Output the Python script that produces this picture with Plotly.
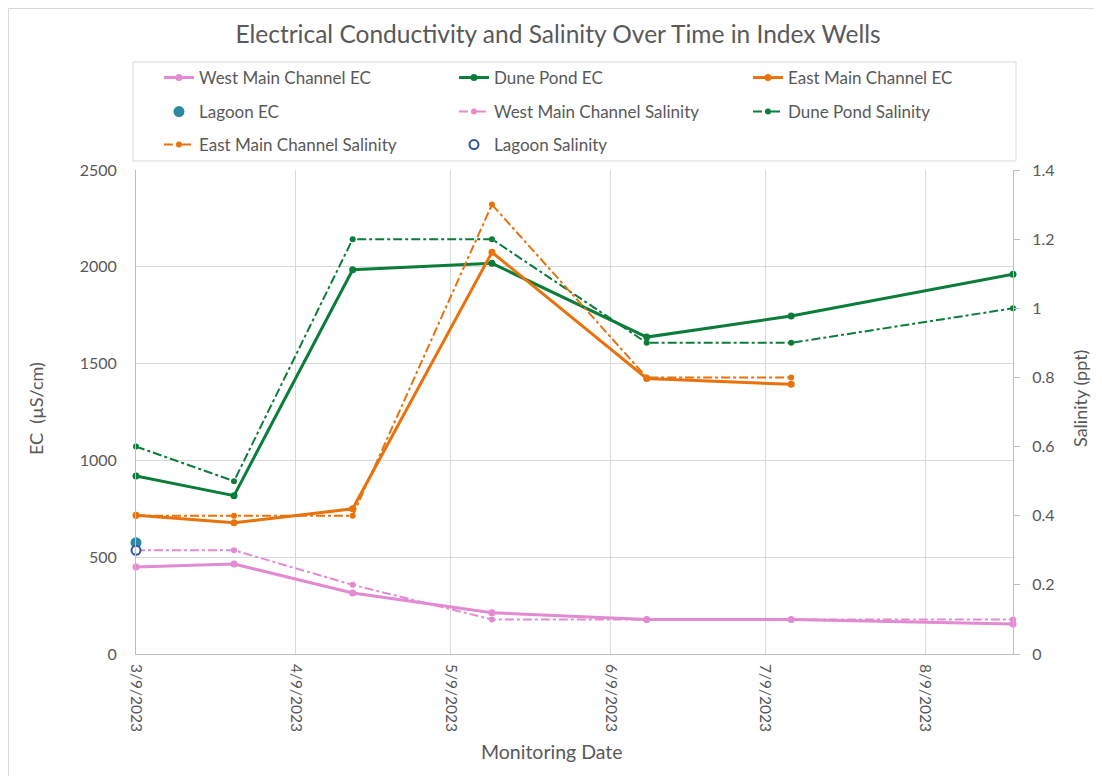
import plotly.graph_objects as go

# ---------------- data ----------------
dates = ["2023-03-09", "2023-03-28", "2023-04-20", "2023-05-17",
         "2023-06-16", "2023-07-14", "2023-08-26"]

west_ec = [450, 465, 315, 213, 178, 178, 155]
dune_ec = [920, 818, 1985, 2018, 1637, 1746, 1962]
east_ec_dates = dates[:6]
east_ec = [717, 678, 750, 2075, 1423, 1393]
lagoon_ec_dates = ["2023-03-09"]
lagoon_ec = [575]

west_sal = [0.3, 0.3, 0.2, 0.1, 0.1, 0.1, 0.1]
dune_sal = [0.6, 0.5, 1.2, 1.2, 0.9, 0.9, 1.0]
east_sal_dates = dates[:6]
east_sal = [0.4, 0.4, 0.4, 1.3, 0.8, 0.8]
lagoon_sal_dates = ["2023-03-09"]
lagoon_sal = [0.3]

xtick_vals = ["2023-03-09", "2023-04-09", "2023-05-09", "2023-06-09",
              "2023-07-09", "2023-08-09"]
xtick_text = ["3/9/2023", "4/9/2023", "5/9/2023", "6/9/2023",
              "7/9/2023", "8/9/2023"]

PINK = "#E28AD2"
GREEN = "#0B7D3A"
ORANGE = "#E8720C"
TEAL = "#2E87A3"
NAVY = "#2F5597"
TXT = "#595959"
GRID = "#D9D9D9"
FONT = "Lato, 'Open Sans', sans-serif"

# page is rendered with an 8px body margin -> figure is offset by 8px
OFF = 8
PAGE_W, PAGE_H = 1102, 776
W, H = PAGE_W - OFF, PAGE_H - OFF
PL, PR, PT, PB = 136, 1013, 170, 654       # plot area in page pixels
L, R, T, B = PL - OFF, PAGE_W - PR, PT - OFF, PAGE_H - PB
pw = PR - PL
ph = PB - PT


def px_x(px):
    return (px - PL) / pw


def px_y(py):
    return (PB - py) / ph


fig = go.Figure()

legend_pos = {}


def add_legend(key, px, py):
    legend_pos[key] = (px, py)


def ec_line(x, y, name, color, legend):
    fig.add_trace(go.Scatter(
        x=x, y=y, name=name, mode="lines+markers", legend=legend,
        line=dict(color=color, width=3), cliponaxis=False,
        marker=dict(color=color, size=7), yaxis="y"))


def sal_line(x, y, name, color, legend):
    fig.add_trace(go.Scatter(
        x=x, y=y, name=name, mode="lines+markers", legend=legend,
        line=dict(color=color, width=2, dash="dashdot"), cliponaxis=False,
        marker=dict(color=color, size=6), yaxis="y2"))


COLS = [159, 454, 748]
ROWS = [78, 112, 145]

ec_line(dates, west_ec, "West Main Channel EC", PINK, "legend")
add_legend("legend", COLS[0], ROWS[0])
ec_line(dates, dune_ec, "Dune Pond EC", GREEN, "legend2")
add_legend("legend2", COLS[1], ROWS[0])
ec_line(east_ec_dates, east_ec, "East Main Channel EC", ORANGE, "legend3")
add_legend("legend3", COLS[2], ROWS[0])
fig.add_trace(go.Scatter(
    x=lagoon_ec_dates, y=lagoon_ec, name="Lagoon EC", mode="markers",
    legend="legend4", cliponaxis=False,
    marker=dict(color=TEAL, size=11), yaxis="y"))
add_legend("legend4", COLS[0], ROWS[1])
sal_line(dates, west_sal, "West Main Channel Salinity", PINK, "legend5")
add_legend("legend5", COLS[1], ROWS[1])
sal_line(dates, dune_sal, "Dune Pond Salinity", GREEN, "legend6")
add_legend("legend6", COLS[2], ROWS[1])
sal_line(east_sal_dates, east_sal, "East Main Channel Salinity", ORANGE, "legend7")
add_legend("legend7", COLS[0], ROWS[2])
fig.add_trace(go.Scatter(
    x=lagoon_sal_dates, y=lagoon_sal, name="Lagoon Salinity", mode="markers",
    legend="legend8", cliponaxis=False,
    marker=dict(color="white", size=9, line=dict(color=NAVY, width=2)),
    yaxis="y2"))
add_legend("legend8", COLS[1], ROWS[2])

legends = {}
for key, (lx, ly) in legend_pos.items():
    legends[key] = dict(
        orientation="v", xanchor="left", yanchor="middle",
        x=px_x(lx), y=px_y(ly), visible=True,
        bgcolor="rgba(0,0,0,0)", borderwidth=0,
        font=dict(family=FONT, size=17, color=TXT),
    )

fig.update_layout(
    width=W, height=H, showlegend=True,
    paper_bgcolor="white", plot_bgcolor="white",
    margin=dict(l=L, r=R, t=T, b=B),
    font=dict(family=FONT, color=TXT, size=16),
    title=dict(text="Electrical Conductivity and Salinity Over Time in Index Wells",
               x=(558 - OFF) / W, xref="container", xanchor="center",
               y=1 - (34 - OFF) / H, yref="container", yanchor="middle",
               font=dict(family=FONT, size=24.5, color=TXT)),
    **legends,
    xaxis=dict(type="date", range=["2023-03-09", "2023-08-26"],
               tickvals=xtick_vals, ticktext=xtick_text, tickangle=90,
               showgrid=True, gridcolor=GRID, gridwidth=1,
               showline=True, linecolor="#BFBFBF", linewidth=1,
               zeroline=False, ticks="", ticklabelstandoff=6,
               tickfont=dict(family=FONT, size=15.5, color=TXT)),
    yaxis=dict(range=[0, 2500], dtick=500, tick0=0,
               showgrid=True, gridcolor=GRID, gridwidth=1,
               showline=True, linecolor="#BFBFBF", linewidth=1,
               zeroline=False, ticks="", ticklabelstandoff=15,
               tickfont=dict(family=FONT, size=16, color=TXT)),
    yaxis2=dict(range=[0, 1.4], dtick=0.2, tick0=0, overlaying="y",
                side="right", showgrid=False, zeroline=False,
                showline=True, linecolor="#BFBFBF", linewidth=1,
                ticks="outside", ticklen=6, tickcolor="#BFBFBF",
                ticklabelstandoff=9,
                tickfont=dict(family=FONT, size=16, color=TXT)),
    annotations=[
        dict(text="EC  (µS/cm)", xref="paper", yref="paper",
             x=px_x(36), y=px_y(409), textangle=-90, showarrow=False,
             xanchor="center", yanchor="middle",
             font=dict(family=FONT, size=18, color=TXT)),
        dict(text="Salinity (ppt)", xref="paper", yref="paper",
             x=px_x(1080), y=px_y(399), textangle=-90, showarrow=False,
             xanchor="center", yanchor="middle",
             font=dict(family=FONT, size=18, color=TXT)),
        dict(text="Monitoring Date", xref="paper", yref="paper",
             x=px_x(552), y=px_y(751), showarrow=False,
             xanchor="center", yanchor="middle",
             font=dict(family=FONT, size=19.5, color=TXT)),
    ],
    shapes=[
        dict(type="rect", xref="paper", yref="paper",
             x0=px_x(133), x1=px_x(1016), y0=px_y(161), y1=px_y(62),
             line=dict(color="#D9D9D9", width=1), fillcolor="rgba(0,0,0,0)",
             layer="below"),
        dict(type="line", xref="paper", yref="paper",
             x0=px_x(OFF + 0.5), x1=px_x(OFF + 0.5),
             y0=px_y(OFF + 0.5), y1=px_y(PAGE_H),
             line=dict(color="#D9D9D9", width=1), layer="below"),
        dict(type="line", xref="paper", yref="paper",
             x0=px_x(OFF + 0.5), x1=px_x(PAGE_W - 2),
             y0=px_y(OFF + 0.5), y1=px_y(OFF + 0.5),
             line=dict(color="#D9D9D9", width=1), layer="below"),
    ],
)

fig.write_html("out.html")
